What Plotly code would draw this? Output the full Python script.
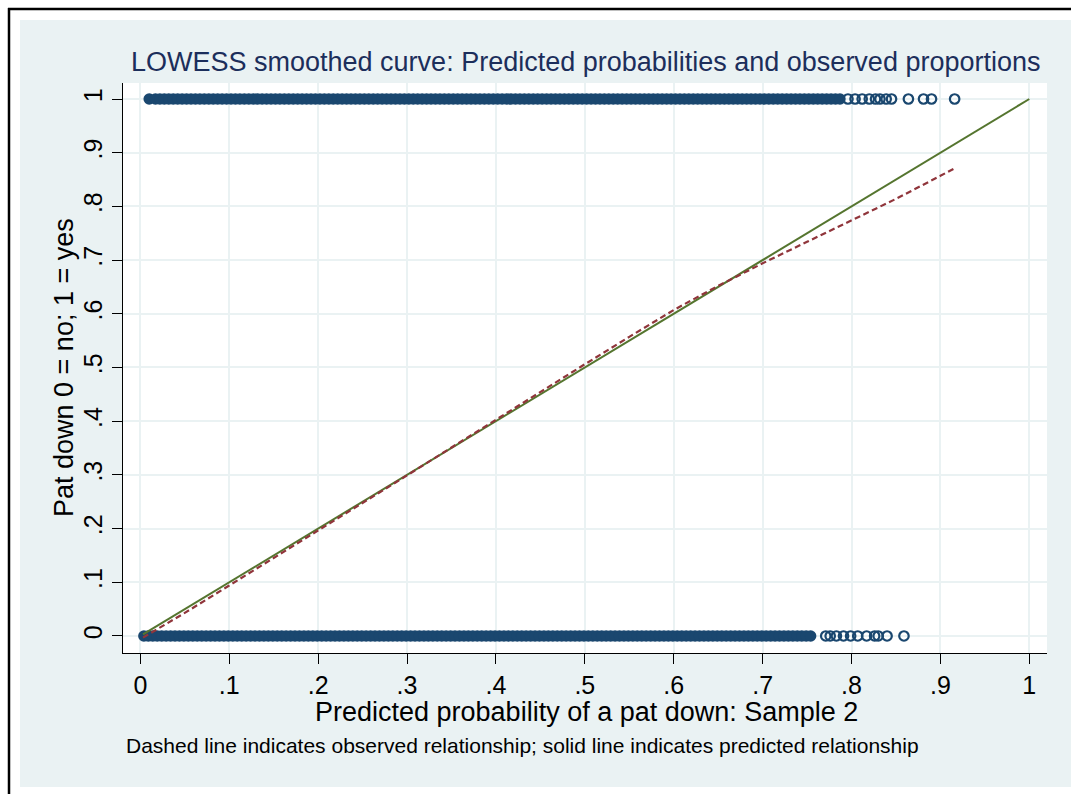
import plotly.graph_objects as go

# ---------------- data ----------------
# Observed outcome = 1 : predicted probabilities (thousandths) in the dense band
obs1_dense_permille = [
    10,
    17, 22, 27, 32, 37, 42, 47, 52, 57, 62, 67, 72, 77, 82, 87, 92, 97,
    102, 107, 112, 117, 122, 127, 132, 137, 142, 147, 152, 157, 162, 167, 172, 177, 182, 187, 192, 197,
    202, 207, 212, 217, 222, 227, 232, 237, 242, 247, 252, 257, 262, 267, 272, 277, 282, 287, 292, 297,
    302, 307, 312, 317, 322, 327, 332, 337, 342, 347, 352, 357, 362, 367, 372, 377, 382, 387, 392, 397,
    402, 407, 412, 417, 422, 427, 432, 437, 442, 447, 452, 457, 462, 467, 472, 477, 482, 487, 492, 497,
    502, 507, 512, 517, 522, 527, 532, 537, 542, 547, 552, 557, 562, 567, 572, 577, 582, 587, 592, 597,
    602, 607, 612, 617, 622, 627, 632, 637, 642, 647, 652, 657, 662, 667, 672, 677, 682, 687, 692, 697,
    702, 707, 712, 717, 722, 727, 732, 737, 742, 747, 752, 757, 762, 767, 772, 777, 782, 787,
]
# Observed outcome = 1 : sparse right tail
obs1_sparse = [0.796, 0.804, 0.812, 0.820, 0.827, 0.832, 0.839, 0.845, 0.864, 0.881, 0.890, 0.916]

# Observed outcome = 0 : predicted probabilities (thousandths) in the dense band
obs0_dense_permille = [
    4, 9, 14, 19, 24, 29, 34, 39, 44, 49, 54, 59, 64, 69, 74, 79, 84, 89, 94, 99,
    104, 109, 114, 119, 124, 129, 134, 139, 144, 149, 154, 159, 164, 169, 174, 179, 184, 189, 194, 199,
    204, 209, 214, 219, 224, 229, 234, 239, 244, 249, 254, 259, 264, 269, 274, 279, 284, 289, 294, 299,
    304, 309, 314, 319, 324, 329, 334, 339, 344, 349, 354, 359, 364, 369, 374, 379, 384, 389, 394, 399,
    404, 409, 414, 419, 424, 429, 434, 439, 444, 449, 454, 459, 464, 469, 474, 479, 484, 489, 494, 499,
    504, 509, 514, 519, 524, 529, 534, 539, 544, 549, 554, 559, 564, 569, 574, 579, 584, 589, 594, 599,
    604, 609, 614, 619, 624, 629, 634, 639, 644, 649, 654, 659, 664, 669, 674, 679, 684, 689, 694, 699,
    704, 709, 714, 719, 724, 729, 734, 739, 744, 749, 754,
]
# Observed outcome = 0 : sparse right tail
obs0_sparse = [0.771, 0.776, 0.783, 0.791, 0.799, 0.807, 0.817, 0.826, 0.830, 0.840, 0.859]

# LOWESS of predicted probability (solid) and of observed outcome (dashed)
pred_x = [0.003, 1.0]
pred_y = [0.003, 1.0]
obs_lowess_x = [0.003, 0.05, 0.10, 0.15, 0.20, 0.25, 0.30, 0.35, 0.40, 0.45, 0.50,
                0.55, 0.60, 0.65, 0.70, 0.75, 0.80, 0.85, 0.90, 0.916]
obs_lowess_y = [-0.003, 0.043, 0.094, 0.145, 0.196, 0.247, 0.299, 0.351, 0.403, 0.455, 0.506,
                0.557, 0.607, 0.652, 0.694, 0.734, 0.774, 0.814, 0.857, 0.871]

tick_vals = [0, 0.1, 0.2, 0.3, 0.4, 0.5, 0.6, 0.7, 0.8, 0.9, 1]
tick_text = ["0", ".1", ".2", ".3", ".4", ".5", ".6", ".7", ".8", ".9", "1"]

title_text = "LOWESS smoothed curve: Predicted probabilities and observed proportions"
x_title = "Predicted probability of a pat down: Sample 2"
y_title = "Pat down 0 = no; 1 = yes"
note_text = "Dashed line indicates observed relationship; solid line indicates predicted relationship"

# ---------------- styling ----------------
NAVY = "#1A476F"
MAROON = "#90353B"
GREEN = "#55752F"
BG = "#EAF2F3"
FONT = "Liberation Sans, Arial, sans-serif"

obs1_dense = [v / 1000 for v in obs1_dense_permille]
obs0_dense = [v / 1000 for v in obs0_dense_permille]

fig = go.Figure()

fig.add_trace(go.Scatter(x=obs1_dense, y=[1] * len(obs1_dense), mode="markers",
                         marker=dict(symbol="circle", size=11.5, color=NAVY), hoverinfo="x+y"))
fig.add_trace(go.Scatter(x=obs0_dense, y=[0] * len(obs0_dense), mode="markers",
                         marker=dict(symbol="circle", size=11.5, color=NAVY), hoverinfo="x+y"))
fig.add_trace(go.Scatter(x=obs1_sparse, y=[1] * len(obs1_sparse), mode="markers",
                         marker=dict(symbol="circle-open", size=9.5, color=NAVY, line=dict(width=2.2, color=NAVY))))
fig.add_trace(go.Scatter(x=obs0_sparse, y=[0] * len(obs0_sparse), mode="markers",
                         marker=dict(symbol="circle-open", size=9.5, color=NAVY, line=dict(width=2.2, color=NAVY))))
fig.add_trace(go.Scatter(x=pred_x, y=pred_y, mode="lines",
                         line=dict(color=GREEN, width=2)))
fig.add_trace(go.Scatter(x=obs_lowess_x, y=obs_lowess_y, mode="lines",
                         line=dict(color=MAROON, width=2.2, dash="6px,3.5px")))

L, R, T, B = 123, 24, 83, 141
W, H = 1071, 794
pw, ph = W - L - R, H - T - B


def px_to_paper_x(px):
    return (px - L) / pw


def px_to_paper_y(py):
    return (H - B - py) / ph


axis_common = dict(
    tickvals=tick_vals, ticktext=tick_text,
    ticks="outside", ticklen=10, tickwidth=1.3, tickcolor="black",
    showline=True, linecolor="black", linewidth=1.3,
    showgrid=True, gridcolor=BG, gridwidth=1.5,
    zeroline=False,
    tickfont=dict(family=FONT, size=25, color="black"),
)

fig.update_layout(
    width=W, height=H,
    margin=dict(l=L, r=R, t=T, b=B, pad=0),
    paper_bgcolor=BG, plot_bgcolor="white",
    showlegend=False,
    xaxis=dict(range=[-0.0195, 1.0199], **axis_common),
    yaxis=dict(range=[-0.0317, 1.0298], tickangle=-90, **axis_common),
    font=dict(family=FONT),
)

shapes = [
    # white margins outside the graph region
    dict(type="rect", xref="paper", yref="paper", x0=px_to_paper_x(0), x1=px_to_paper_x(20),
         y0=px_to_paper_y(0), y1=px_to_paper_y(H), fillcolor="white", line=dict(width=0), layer="below"),
    dict(type="rect", xref="paper", yref="paper", x0=px_to_paper_x(0), x1=px_to_paper_x(W),
         y0=px_to_paper_y(0), y1=px_to_paper_y(20), fillcolor="white", line=dict(width=0), layer="below"),
    dict(type="rect", xref="paper", yref="paper", x0=px_to_paper_x(0), x1=px_to_paper_x(W),
         y0=px_to_paper_y(787), y1=px_to_paper_y(H), fillcolor="white", line=dict(width=0), layer="below"),
    # black outer border (left and top)
    dict(type="line", xref="paper", yref="paper", x0=px_to_paper_x(9), x1=px_to_paper_x(9),
         y0=px_to_paper_y(8), y1=px_to_paper_y(H), line=dict(color="black", width=2.5)),
    dict(type="line", xref="paper", yref="paper", x0=px_to_paper_x(8), x1=px_to_paper_x(W),
         y0=px_to_paper_y(9), y1=px_to_paper_y(9), line=dict(color="black", width=2.5)),
]
fig.update_layout(shapes=shapes)

annotations = [
    dict(text=title_text, xref="paper", yref="paper", x=px_to_paper_x(585), y=px_to_paper_y(62),
         xanchor="center", yanchor="middle", showarrow=False,
         font=dict(family=FONT, size=27, color="#1C2E5B")),
    dict(text=x_title, xref="paper", yref="paper", x=px_to_paper_x(586), y=px_to_paper_y(712),
         xanchor="center", yanchor="middle", showarrow=False,
         font=dict(family=FONT, size=27, color="black")),
    dict(text=y_title, xref="paper", yref="paper", x=px_to_paper_x(64), y=px_to_paper_y(368),
         xanchor="center", yanchor="middle", showarrow=False, textangle=-90,
         font=dict(family=FONT, size=27, color="black")),
    dict(text=note_text, xref="paper", yref="paper", x=px_to_paper_x(124), y=px_to_paper_y(745),
         xanchor="left", yanchor="middle", showarrow=False,
         font=dict(family=FONT, size=21, color="black")),
]
fig.update_layout(annotations=annotations)

fig.write_html("out.html")
